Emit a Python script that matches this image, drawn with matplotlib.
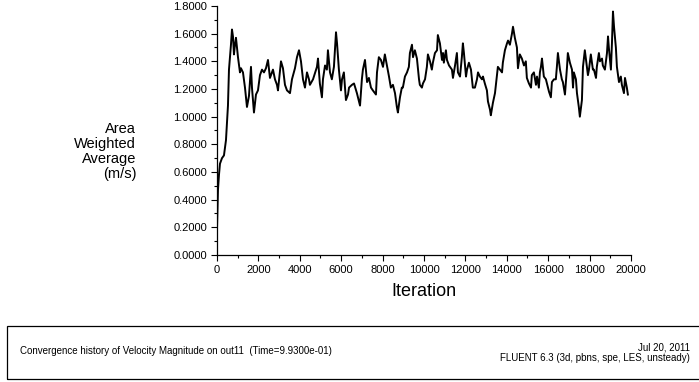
import matplotlib
matplotlib.use('Agg')
import matplotlib.pyplot as plt
from matplotlib.patches import Rectangle
from matplotlib.ticker import MultipleLocator, FormatStrFormatter

plt.rcParams['font.family'] = ['Liberation Sans', 'DejaVu Sans']

iterations = [
    0, 48, 97, 145, 242, 338, 435, 531, 580, 676, 725, 773, 821, 870, 918,
    1015, 1111, 1159, 1256, 1353, 1449, 1546, 1643, 1691, 1787, 1884, 1981,
    2077, 2174, 2271, 2367, 2464, 2560, 2705, 2802, 2899, 2947, 3092, 3188,
    3285, 3382, 3527, 3623, 3768, 3865, 3962, 4058, 4155, 4251, 4348, 4445,
    4490, 4640, 4830, 4880, 4970, 5070, 5120, 5220, 5310, 5360, 5460, 5550,
    5650, 5750, 5800, 5890, 5990, 6040, 6130, 6230, 6330, 6380, 6520, 6620,
    6760, 6810, 6910, 7000, 7050, 7150, 7250, 7340, 7440, 7530, 7680, 7730,
    7820, 7920, 8020, 8110, 8210, 8310, 8400, 8500, 8600, 8690, 8740, 8840,
    8930, 8980, 9080, 9180, 9270, 9320, 9420, 9470, 9560, 9660, 9760,
    9800, 9900, 9950, 10050, 10140, 10190, 10290, 10380, 10430, 10530, 10630,
    10670, 10770, 10870, 10920, 10960, 11060, 11110, 11210, 11350, 11400,
    11500, 11590, 11640, 11740, 11830, 11880, 11930, 12030, 12080, 12170,
    12270, 12360, 12460, 12560, 12610, 12700, 12800, 12850, 12940, 13040,
    13090, 13190, 13230, 13330, 13430, 13520, 13570, 13670, 13770, 13810,
    13910, 14010, 14060, 14150, 14250, 14300, 14390, 14490, 14540,
    14630, 14730, 14830, 14920, 14970, 15070, 15170, 15210, 15310, 15410,
    15460, 15550, 15600, 15650, 15700, 15790, 15890, 15940, 16040, 16130,
    16180, 16280, 16370, 16420, 16470, 16570, 16660, 16710, 16810, 16910,
    16950, 17050, 17150, 17200, 17240, 17340, 17390, 17480, 17530, 17630,
    17680, 17770, 17820, 17920, 17970, 18060, 18160, 18210, 18310, 18350,
    18450, 18500, 18600, 18640, 18740, 18840, 18890, 18930, 19030, 19080,
    19130, 19180, 19270, 19320, 19420, 19510, 19560, 19660, 19710, 19800,
    19850,
]
velocity = [
    0.18, 0.47, 0.58, 0.66, 0.70, 0.72, 0.83, 1.08, 1.34, 1.52, 1.63, 1.58,
    1.45, 1.52, 1.57, 1.43, 1.32, 1.35, 1.32, 1.21, 1.07, 1.15, 1.36, 1.21,
    1.03, 1.16, 1.19, 1.30, 1.34, 1.32, 1.35, 1.41, 1.28, 1.34, 1.27, 1.23,
    1.19, 1.40, 1.35, 1.23, 1.19, 1.17, 1.27, 1.35, 1.43, 1.48, 1.40, 1.27,
    1.21, 1.32, 1.27,
    1.23, 1.27, 1.36, 1.42, 1.24, 1.14, 1.27, 1.37, 1.34, 1.48, 1.32, 1.27,
    1.36, 1.61, 1.53, 1.34, 1.19, 1.27, 1.32, 1.12, 1.16, 1.21, 1.23, 1.24,
    1.17, 1.14, 1.08, 1.27, 1.34, 1.41, 1.25, 1.28, 1.21, 1.19, 1.16, 1.32,
    1.43, 1.41, 1.36, 1.45, 1.37, 1.29, 1.21, 1.23, 1.17, 1.07, 1.03, 1.14,
    1.21, 1.21, 1.29, 1.32, 1.36, 1.46, 1.52, 1.43, 1.48, 1.42, 1.27,
    1.23, 1.21, 1.24, 1.27, 1.36, 1.45, 1.40, 1.34, 1.39, 1.46, 1.48,
    1.59, 1.53, 1.41, 1.46, 1.39, 1.48, 1.41, 1.37, 1.34, 1.28,
    1.37, 1.46, 1.32, 1.29, 1.43, 1.53, 1.46, 1.29, 1.34, 1.39,
    1.34, 1.21, 1.21, 1.27, 1.32, 1.29, 1.27, 1.29, 1.24, 1.19,
    1.11, 1.05, 1.01, 1.10, 1.17, 1.29, 1.36, 1.34, 1.32, 1.39,
    1.48, 1.53, 1.55, 1.52, 1.60, 1.65, 1.57, 1.50, 1.35,
    1.45, 1.42, 1.37, 1.40, 1.28, 1.24, 1.21, 1.30, 1.32, 1.23,
    1.29, 1.21, 1.32, 1.36, 1.42, 1.29, 1.27, 1.24, 1.18, 1.14,
    1.25, 1.27, 1.27, 1.36, 1.46, 1.34, 1.27, 1.25, 1.16, 1.36,
    1.46, 1.39, 1.34, 1.21, 1.32, 1.27, 1.17, 1.07, 1.00, 1.12,
    1.36, 1.48, 1.42, 1.30, 1.34, 1.45, 1.34, 1.34, 1.28, 1.36,
    1.46, 1.40, 1.42, 1.37, 1.34, 1.46, 1.58, 1.50, 1.34, 1.53,
    1.76, 1.65, 1.50, 1.36, 1.25, 1.29, 1.23, 1.17, 1.28, 1.21,
    1.16,
]

ylabel_lines = ["Area", "Weighted", "Average", "(m/s)"]
caption_left = "Convergence history of Velocity Magnitude on out11  (Time=9.9300e-01)"
caption_date = "Jul 20, 2011"
caption_solver = "FLUENT 6.3 (3d, pbns, spe, LES, unsteady)"

# ── Figure ────────────────────────────────────────────────────────────────
fig = plt.figure(figsize=(6.99, 3.82), dpi=100)
ax = fig.add_axes([0.3104, 0.3325, 0.5923, 0.6518])

ax.plot(iterations, velocity, color='black', linewidth=1.4)

ax.set_xlim(0, 20000)
ax.set_ylim(0, 1.8)
ax.spines['top'].set_visible(False)
ax.spines['right'].set_visible(False)
for sp in ('left', 'bottom'):
    ax.spines[sp].set_linewidth(0.9)

ax.xaxis.set_major_locator(MultipleLocator(2000))
ax.xaxis.set_minor_locator(MultipleLocator(1000))
ax.yaxis.set_major_locator(MultipleLocator(0.2))
ax.yaxis.set_minor_locator(MultipleLocator(0.1))
ax.yaxis.set_major_formatter(FormatStrFormatter('%.4f'))
ax.tick_params(which='major', length=4, width=0.8, labelsize=8, pad=3)
ax.tick_params(which='minor', length=2.5, width=0.8)

ax.set_xlabel('Iteration', fontsize=13, labelpad=6)

fig.text(0.195, 0.603, "\n".join(ylabel_lines), ha='right', va='center',
         fontsize=10.5, linespacing=1.1)

# ── Caption box ───────────────────────────────────────────────────────────
fig.add_artist(Rectangle((7 / 699, 3 / 382), 1.0, 53 / 382,
                         transform=fig.transFigure, fill=False,
                         edgecolor='black', linewidth=0.9))
fig.text(20 / 699, 1 - 351 / 382, caption_left, ha='left', va='center',
         fontsize=7)
fig.text(690 / 699, 1 - 347 / 382, caption_date, ha='right', va='center',
         fontsize=7)
fig.text(690 / 699, 1 - 358 / 382, caption_solver, ha='right', va='center',
         fontsize=7)

fig.savefig('out.png', dpi=100)
